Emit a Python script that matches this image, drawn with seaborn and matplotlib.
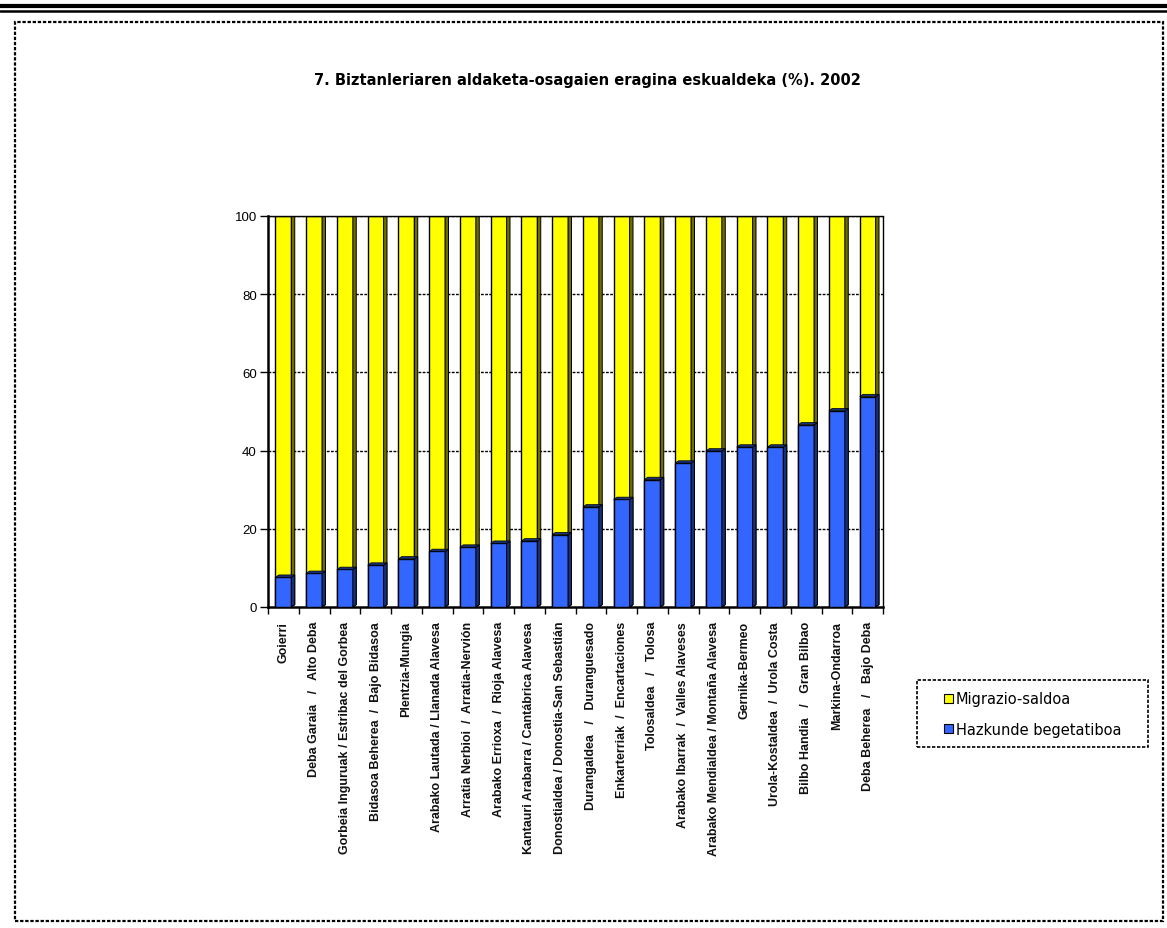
import numpy as np
import pandas as pd
import matplotlib
matplotlib.use("Agg")
import matplotlib.pyplot as plt
import seaborn as sns
from matplotlib.patches import Patch, Polygon, Rectangle
from matplotlib.lines import Line2D

# ---------------- data ----------------
regions = [
    "Goierri",
    "Deba Garaia   /   Alto Deba",
    "Gorbeia Inguruak / Estribac del Gorbea",
    "Bidasoa Beherea  /  Bajo Bidasoa",
    "Plentzia-Mungia",
    "Arabako Lautada / Llanada Alavesa",
    "Arratia Nerbioi  /  Arratia-Nervión",
    "Arabako Errioxa  /  Rioja Alavesa",
    "Kantauri Arabarra / Cantábrica Alavesa",
    "Donostialdea / Donostia-San Sebastián",
    "Durangaldea   /   Duranguesado",
    "Enkarterriak  /  Encartaciones",
    "Tolosaldea   /   Tolosa",
    "Arabako Ibarrak  /  Valles Alaveses",
    "Arabako Mendialdea / Montaña Alavesa",
    "Gernika-Bermeo",
    "Urola-Kostaldea  /  Urola Costa",
    "Bilbo Handia   /   Gran Bilbao",
    "Markina-Ondarroa",
    "Deba Beherea   /   Bajo Deba",
]
hazkunde = [7.6, 8.6, 9.6, 10.7, 12.3, 14.2, 15.3, 16.3, 16.9, 18.5,
            25.6, 27.5, 32.6, 36.8, 39.9, 40.9, 40.9, 46.6, 50.2, 53.8]
migrazio = [92.4, 91.4, 90.4, 89.3, 87.7, 85.8, 84.7, 83.7, 83.1, 81.5,
            74.4, 72.5, 67.4, 63.2, 60.1, 59.1, 59.1, 53.4, 49.8, 46.2]
series_names = ["Migrazio-saldoa", "Hazkunde begetatiboa"]
yticks = [0, 20, 40, 60, 80, 100]
title = "7. Biztanleriaren aldaketa-osagaien eragina eskualdeka (%). 2002"

YELLOW = "#FFFF00"
BLUE = "#3366FF"
YELLOW_SIDE = "#6E6E00"
BLUE_SIDE = "#17307A"

df = pd.DataFrame({"region": regions, "hazkunde": hazkunde, "migrazio": migrazio})
df["total"] = df["hazkunde"] + df["migrazio"]

# ---------------- figure ----------------
sns.set_theme(style="white")
plt.rcParams["font.family"] = ["Liberation Sans", "DejaVu Sans"]
for k in ["text.color", "axes.labelcolor", "xtick.color", "ytick.color"]:
    plt.rcParams[k] = "black"

W, H = 1167, 929
fig = plt.figure(figsize=(W / 100, H / 100), dpi=100)
fig.patch.set_facecolor("white")

px = lambda x: x / W
py = lambda y: 1 - y / H

ax = fig.add_axes([px(268), py(608), (883 - 268) / W, (608 - 217) / H])
ax.set_facecolor("white")

dash = (0, (2.0, 1.0))

# horizontal grid
for t in yticks[1:]:
    ax.axhline(t, color="black", lw=1.0, ls=dash, zorder=0)

BW = 0.52
sns.barplot(data=df, x="region", y="total", color=YELLOW, saturation=1,
            width=BW, edgecolor="black", linewidth=1.0, ax=ax, zorder=2)
n_y = len(ax.patches)
sns.barplot(data=df, x="region", y="hazkunde", color=BLUE, saturation=1,
            width=BW, edgecolor="black", linewidth=1.0, ax=ax, zorder=3)

# 3D side faces derived from drawn bars
dx = 0.11
dy = 0.6
patches = list(ax.patches)
for i, p in enumerate(patches):
    x0 = p.get_x()
    w = p.get_width()
    h = p.get_height()
    x1 = x0 + w
    side = YELLOW_SIDE if i < n_y else BLUE_SIDE
    z = 2.5 if i < n_y else 3.5
    poly = Polygon([(x1, 0), (x1 + dx, dy), (x1 + dx, h + dy), (x1, h)],
                   closed=True, facecolor=side, edgecolor="black", lw=0.7, zorder=z)
    ax.add_patch(poly)
    top = Polygon([(x0, h), (x0 + dx, h + dy), (x1 + dx, h + dy), (x1, h)],
                  closed=True, facecolor=side, edgecolor="black", lw=0.5, zorder=z)
    ax.add_patch(top)

ax.set_xlim(-0.5, len(regions) - 0.5)
ax.set_ylim(0, 100)
ax.set_xlabel("")
ax.set_ylabel("")

for s in ax.spines.values():
    s.set_visible(True)
    s.set_color("black")
    s.set_linewidth(1.0)
    s.set_linestyle(dash)
ax.spines["left"].set_linestyle("-")
ax.spines["left"].set_linewidth(1.8)
ax.spines["bottom"].set_linestyle("-")
ax.spines["bottom"].set_linewidth(1.8)

ax.set_yticks(yticks)
ax.set_yticklabels([str(t) for t in yticks], fontsize=9.5)
ax.tick_params(axis="y", direction="out", length=6, width=1, color="black", pad=2, left=True)

ax.set_xticks(range(len(regions)))
ax.set_xticklabels(regions, rotation=90, fontsize=9, fontweight="bold", color="#111111")
ax.tick_params(axis="x", which="major", length=0, pad=10)
ax.set_xticks(np.arange(-0.5, len(regions), 1.0), minor=True)
ax.tick_params(axis="x", which="minor", direction="out", length=5, width=1, color="black", bottom=True)

# legend (frame drawn separately)
fig.add_artist(Rectangle((px(917), py(748)), px(1148) - px(917), py(681) - py(748),
                         transform=fig.transFigure, fill=False, edgecolor="black",
                         lw=1.2, ls=dash))
handles = [Patch(facecolor=YELLOW, edgecolor="black", lw=0.8),
           Patch(facecolor=BLUE, edgecolor="black", lw=0.8)]
leg = fig.legend(handles, series_names, loc="center left",
                 bbox_to_anchor=(px(944), py(715)), bbox_transform=fig.transFigure,
                 prop={"family": "DejaVu Sans", "size": 10.5}, frameon=False,
                 handlelength=0.6, handleheight=0.6, handletextpad=0.2,
                 labelspacing=1.05, borderpad=0, borderaxespad=0)

# title
fig.text(px(587.5), py(80), title, ha="center", va="center",
         fontsize=10.5, fontweight="bold", family="DejaVu Sans", color="black")

# outer frame
fig.add_artist(Rectangle((px(15), py(922)), px(1163) - px(15), py(22.5) - py(922),
                         transform=fig.transFigure, fill=False, edgecolor="black",
                         lw=1.6, ls=(0, (1.5, 0.8))))
# top double rules
fig.add_artist(Line2D([0, 1], [py(6.5), py(6.5)], transform=fig.transFigure,
                      color="black", lw=3.0))
fig.add_artist(Line2D([0, 1], [py(11.5), py(11.5)], transform=fig.transFigure,
                      color="black", lw=1.8))

fig.savefig("out.png", dpi=100, facecolor="white")
